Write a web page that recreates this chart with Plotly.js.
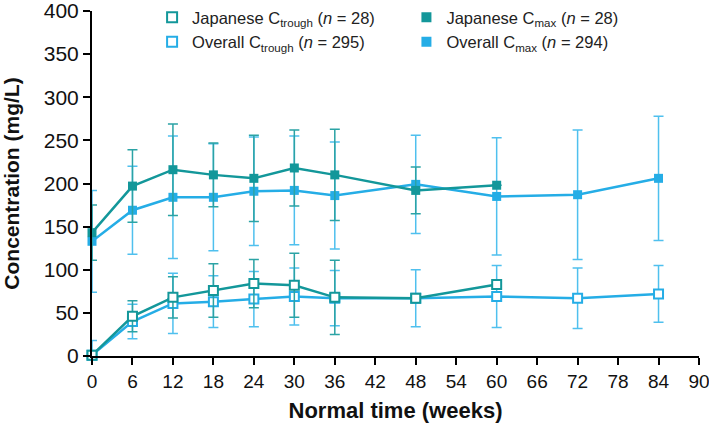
<!DOCTYPE html>
<html>
<head>
<meta charset="utf-8">
<script src="https://cdn.plot.ly/plotly-3.0.1.min.js"></script>
<style>
  html, body { margin: 0; padding: 0; background: #fff; }
  #chart { width: 709px; height: 428px; }
</style>
</head>
<body>
<div id="chart"></div>
<script>
// Thời gian (tuần)
const weeksJp = [0, 6, 12, 18, 24, 30, 36, 48, 60];
const weeksAll = [0, 6, 12, 18, 24, 30, 36, 48, 60, 72, 84];

// Cmax
const jpCmax = [143, 197, 216, 210, 206, 218, 210, 192, 198];
const jpCmaxErr = [32, 42, 53, 37, 50, 44, 53, 27, null];
const allCmax = [133, 169, 184, 184, 191, 192, 186, 199, 185, 187, 206];
const allCmaxErr = [59, 51, 71, 62, 63, 63, 62, 57, 68, 75, 72];

// Ctrough
const jpCtrough = [1, 46, 68, 76, 84, 82, 68, 67, 83];
const jpCtroughErr = [null, 18, 24, 31, 28, 37, 43, null, null];
const allCtrough = [1, 40, 61, 63, 66, 69, 67, 67, 69, 67, 72];
const allCtroughErr = [17, 20, 35, 30, 32, 33, 32, 33, 36, 35, 33];

const teal = '#13979a';
const tealErr = '#2ba3a5';
const blue = '#25ade6';
const blueErr = '#4fc0ee';

function series(x, y, err, color, errColor, open) {
    return {
        x: x, y: y, type: 'scatter', mode: 'lines+markers',
        showlegend: false, cliponaxis: false,
        line: { color: color, width: 2.5 },
        marker: {
            symbol: 'square', size: 9,
            color: open ? '#ffffff' : color,
            line: { color: color, width: open ? 2 : 0 }
        },
        error_y: { type: 'data', array: err, symmetric: true, color: errColor, thickness: 1.5, width: 5 }
    };
}

// trace chỉ dùng cho chú thích (chỉ hiện ô vuông)
function legendItem(name, color, open, legend) {
    return {
        x: [null], y: [null], type: 'scatter', mode: 'markers', name: name, legend: legend,
        marker: { symbol: 'square', size: 10, color: open ? '#ffffff' : color, line: { color: color, width: open ? 2 : 0 } }
    };
}

const data = [
    series(weeksAll, allCmax, allCmaxErr, blue, blueErr, false),
    series(weeksAll, allCtrough, allCtroughErr, blue, blueErr, true),
    series(weeksJp, jpCmax, jpCmaxErr, teal, tealErr, false),
    series(weeksJp, jpCtrough, jpCtroughErr, teal, tealErr, true),
    legendItem('Japanese C<sub>trough</sub> (<i>n</i> = 28)', teal, true, 'legend'),
    legendItem('Overall C<sub>trough</sub> (<i>n</i> = 295)', blue, true, 'legend'),
    legendItem('Japanese C<sub>max</sub> (<i>n</i> = 28)', teal, false, 'legend2'),
    legendItem('Overall C<sub>max</sub> (<i>n</i> = 294)', blue, false, 'legend2')
];

const legendBase = {
    orientation: 'v', xanchor: 'left', yanchor: 'top', yref: 'container', y: 1.017,
    bgcolor: 'rgba(0,0,0,0)', tracegroupgap: 0,
    font: { family: 'Liberation Sans, Arial, sans-serif', size: 16.5, color: '#222' }
};

const layout = {
    width: 709, height: 428,
    // autoexpand tắt để chú thích không đẩy lề
    margin: { l: 92, r: 10, t: 11, b: 72, autoexpand: false },
    paper_bgcolor: '#fff', plot_bgcolor: '#fff',
    font: { family: 'Liberation Sans, Arial, sans-serif', color: '#111' },
    xaxis: {
        range: [0, 90], dtick: 6, tick0: 0,
        showline: true, linecolor: '#000', linewidth: 2,
        ticks: 'outside', ticklen: 7, tickwidth: 2, tickcolor: '#000',
        showgrid: false, zeroline: false, ticklabeloverflow: 'allow',
        tickfont: { size: 19, color: '#111' },
        title: { text: 'Normal time (weeks)', font: { size: 22, weight: 'bold', color: '#111' }, standoff: 12 }
    },
    yaxis: {
        range: [0, 400], dtick: 50, tick0: 0,
        showline: true, linecolor: '#000', linewidth: 2,
        ticks: 'outside', ticklen: 7, tickwidth: 2, tickcolor: '#000',
        showgrid: false, zeroline: false, ticklabeloverflow: 'allow', automargin: true,
        tickfont: { size: 21, color: '#111' },
        title: { text: 'Concentration (mg/L)', font: { size: 21, weight: 'bold', color: '#111' }, standoff: 18 }
    },
    legend: { ...legendBase, x: 0.099 },
    legend2: { ...legendBase, x: 0.518 }
};

Plotly.newPlot('chart', data, layout, { staticPlot: true });
</script>
</body>
</html>
